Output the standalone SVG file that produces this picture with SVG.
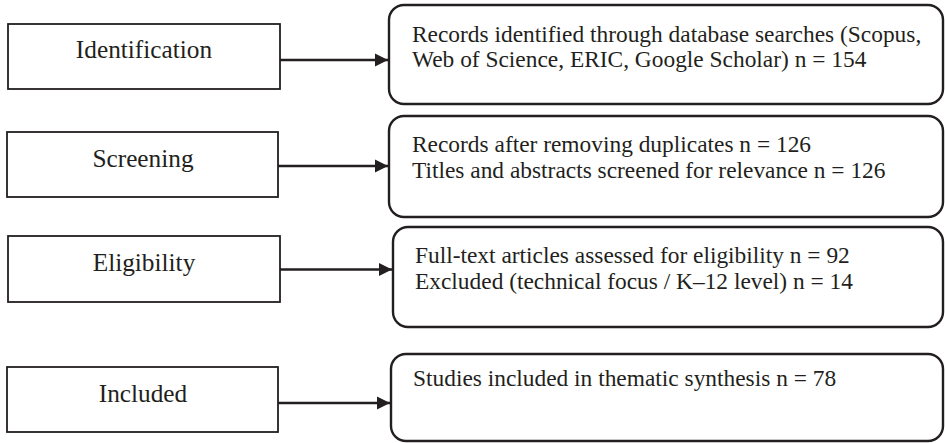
<svg xmlns="http://www.w3.org/2000/svg" width="945" height="443" viewBox="0 0 945 443">
<style>
.stage{fill:#fff;stroke:#231f20;stroke-width:1.8}
.res{fill:#fff;stroke:#231f20;stroke-width:2.4}
.lab{font-family:"Liberation Serif","Times New Roman",serif;font-size:25.3px;fill:#231f20;text-anchor:middle}
.txt{font-family:"Liberation Serif","Times New Roman",serif;font-size:23.4px;fill:#231f20}
.conn{stroke:#231f20;stroke-width:2.4;fill:none}
</style>
<defs>
<marker id="ah" markerUnits="userSpaceOnUse" markerWidth="14" markerHeight="14" refX="13" refY="7" orient="auto">
<path d="M0,0.5 L13,7 L0,13.5 Z" fill="#231f20"/>
</marker>
</defs>
<rect width="945" height="443" fill="#fff"/>
<g id="identification">
<rect class="stage" x="8" y="24" width="272" height="65"/>
<text class="lab" x="144" y="58">Identification</text>
</g>
<g id="screening">
<rect class="stage" x="7" y="132" width="271" height="65"/>
<text class="lab" x="143" y="166.5">Screening</text>
</g>
<g id="eligibility">
<rect class="stage" x="8" y="236" width="272" height="66"/>
<text class="lab" x="144" y="270.5">Eligibility</text>
</g>
<g id="included">
<rect class="stage" x="7" y="367" width="271" height="65"/>
<text class="lab" x="143" y="401.5">Included</text>
</g>
<g id="records-identified">
<rect class="res" x="389" y="5" width="554" height="99" rx="15"/>
<text class="txt" x="412" y="42">Records identified through database searches (Scopus,</text>
<text class="txt" x="412" y="67">Web of Science, ERIC, Google Scholar) n = 154</text>
</g>
<g id="records-screened">
<rect class="res" x="389" y="116" width="554" height="101" rx="15"/>
<text class="txt" x="412" y="152">Records after removing duplicates n = 126</text>
<text class="txt" x="412" y="178">Titles and abstracts screened for relevance n = 126</text>
</g>
<g id="full-text">
<rect class="res" x="393" y="227" width="550" height="100" rx="15"/>
<text class="txt" x="415" y="263">Full-text articles assessed for eligibility n = 92</text>
<text class="txt" x="415" y="289">Excluded (technical focus / K–12 level) n = 14</text>
</g>
<g id="studies-included">
<rect class="res" x="391" y="354" width="552" height="87" rx="15"/>
<text class="txt" x="413" y="386">Studies included in thematic synthesis n = 78</text>
</g>
<g id="connectors">
<line class="conn" x1="280" y1="60" x2="388" y2="60" marker-end="url(#ah)"/>
<line class="conn" x1="278" y1="166" x2="388" y2="166" marker-end="url(#ah)"/>
<line class="conn" x1="280" y1="269.5" x2="392" y2="269.5" marker-end="url(#ah)"/>
<line class="conn" x1="278" y1="403" x2="390" y2="403" marker-end="url(#ah)"/>
</g>
</svg>
